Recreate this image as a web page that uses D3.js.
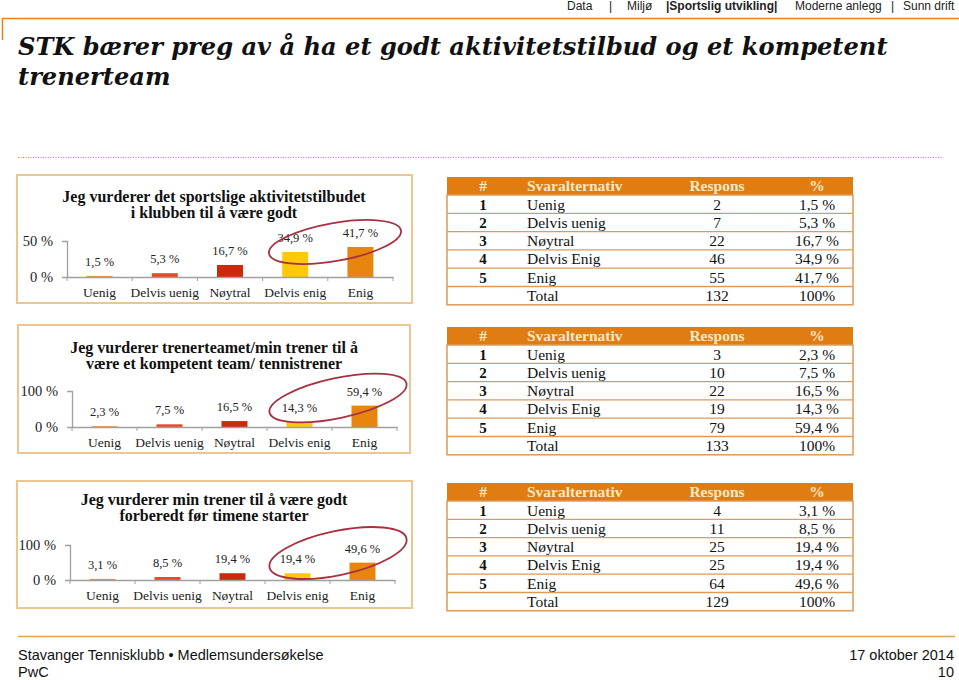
<!DOCTYPE html>
<html><head><meta charset="utf-8">
<script src="https://cdn.jsdelivr.net/npm/d3@7/dist/d3.min.js"></script>
<style>
html,body{margin:0;padding:0;background:#fff;}
svg{display:block;}
</style></head>
<body>
<svg id="c" width="959" height="680"></svg>
<script>
// ---------- DATA ----------
const categories = ["Uenig", "Delvis uenig", "Nøytral", "Delvis enig", "Enig"];
const tableLabels = ["Uenig", "Delvis uenig", "Nøytral", "Delvis Enig", "Enig"];
const barColors = ["#e8913a", "#ea4a24", "#cc2a0c", "#ffc808", "#e8850e"];

const chart1Title = ["Jeg vurderer det sportslige aktivitetstilbudet", "i klubben til å være godt"];
const chart1Values = [1.5, 5.3, 16.7, 34.9, 41.7];
const chart1Labels = ["1,5 %", "5,3 %", "16,7 %", "34,9 %", "41,7 %"];
const chart1Responses = [2, 7, 22, 46, 55];
const chart1Total = 132;
const chart1Ticks = [0, 50];

const chart2Title = ["Jeg vurderer trenerteamet/min trener til å", "være et kompetent team/ tennistrener"];
const chart2Values = [2.3, 7.5, 16.5, 14.3, 59.4];
const chart2Labels = ["2,3 %", "7,5 %", "16,5 %", "14,3 %", "59,4 %"];
const chart2Responses = [3, 10, 22, 19, 79];
const chart2Total = 133;
const chart2Ticks = [0, 100];

const chart3Title = ["Jeg vurderer min trener til å være godt", "forberedt før timene starter"];
const chart3Values = [3.1, 8.5, 19.4, 19.4, 49.6];
const chart3Labels = ["3,1 %", "8,5 %", "19,4 %", "19,4 %", "49,6 %"];
const chart3Responses = [4, 11, 25, 25, 64];
const chart3Total = 129;
const chart3Ticks = [0, 100];

const tableHeader = ["#", "Svaralternativ", "Respons", "%"];
const navItems = ["Data", "|", "Miljø", "|Sportslig utvikling|", "Moderne anlegg", "|", "Sunn drift"];
const pageTitle = ["STK bærer preg av å ha et godt aktivitetstilbud og et kompetent", "trenerteam"];
const footerLeft = ["Stavanger Tennisklubb • Medlemsundersøkelse", "PwC"];
const footerRight = ["17 oktober 2014", "10"];

// ---------- DRAW ----------
const svg = d3.select("#c");
const SERIF = "'Liberation Serif', 'DejaVu Serif', serif";
const TITLESERIF = "'DejaVu Serif', 'Liberation Serif', serif";
const SANS = "'Liberation Sans', Arial, sans-serif";
const ORANGE = "#e3851a";

// nav
const navX = [567, 609, 627, 666, 795, 891, 903];
const nav = svg.append("g").attr("font-family", SANS).attr("font-size", 12).attr("fill", "#222");
navItems.forEach((t, i) => {
  nav.append("text").attr("x", navX[i]).attr("y", 10).text(t)
    .attr("font-weight", t.startsWith("|S") ? "bold" : "normal");
});
svg.append("line").attr("x1", 2).attr("x2", 959).attr("y1", 18.5).attr("y2", 18.5)
  .attr("stroke", ORANGE).attr("stroke-width", 1.5);
svg.append("line").attr("x1", 2.5).attr("x2", 2.5).attr("y1", 18).attr("y2", 40)
  .attr("stroke", ORANGE).attr("stroke-width", 1.5);

// page title
const tg = svg.append("g").attr("font-family", TITLESERIF).attr("font-style", "italic")
  .attr("font-weight", "bold").attr("font-size", 28).attr("fill", "#111");
const t1 = tg.append("text").attr("x", 18).attr("y", 55).text(pageTitle[0]);
tg.append("text").attr("x", 18).attr("y", 85).text(pageTitle[1]);
const tl = t1.node().getComputedTextLength();
if (tl > 0) tg.attr("font-size", Math.min(30, 28 * 870 / tl));

svg.append("line").attr("x1", 18).attr("x2", 942).attr("y1", 157.5).attr("y2", 157.5)
  .attr("stroke", ORANGE).attr("stroke-width", 1).attr("stroke-dasharray", "1,1.5");

// footer
svg.append("line").attr("x1", 18).attr("x2", 955).attr("y1", 636.5).attr("y2", 636.5)
  .attr("stroke", "#e0a050").attr("stroke-width", 1.5);
const fg = svg.append("g").attr("font-family", SANS).attr("font-size", 14.5).attr("fill", "#111");
footerLeft.forEach((t, i) => fg.append("text").attr("x", 18).attr("y", 660 + i * 17).text(t));
footerRight.forEach((t, i) => fg.append("text").attr("x", 954).attr("y", 660 + i * 17)
  .attr("text-anchor", "end").text(t));

function drawChart(cfg) {
  const g = svg.append("g");
  g.append("rect").attr("x", cfg.frame[0]).attr("y", cfg.frame[1])
    .attr("width", cfg.frame[2] - cfg.frame[0]).attr("height", cfg.frame[3] - cfg.frame[1])
    .attr("fill", "#fff").attr("stroke", "#ebc68e").attr("stroke-width", 2);
  cfg.title.forEach((t, i) => g.append("text").attr("x", cfg.titleX).attr("y", cfg.titleY + i * 15.5)
    .attr("text-anchor", "middle").attr("font-family", SERIF).attr("font-weight", "bold")
    .attr("font-size", 16).attr("fill", "#111").text(t));

  const xb = d3.scaleBand().domain(categories).range(cfg.xr);
  const y = d3.scaleLinear().domain([0, cfg.ticks[1]]).range(cfg.yr);

  // bars
  g.selectAll("rect.bar").data(cfg.values).join("rect").attr("class", "bar")
    .attr("x", (d, i) => xb(categories[i]) + xb.bandwidth() / 2 - 13)
    .attr("width", 26)
    .attr("y", d => y(d)).attr("height", d => y(0) - y(d))
    .attr("fill", (d, i) => barColors[i]);

  // x axis
  const xa = g.append("g").attr("transform", `translate(0,${cfg.yr[0]})`)
    .call(d3.axisBottom(xb).tickSize(0).tickPadding(10));
  xa.select(".domain").attr("stroke", "#a0a0a0").attr("stroke-width", 1.3);
  xa.selectAll("text").attr("font-family", SERIF).attr("font-size", 13.5).attr("fill", "#222");
  g.selectAll("line.bt").data(d3.range(categories.length + 1)).join("line").attr("class", "bt")
    .attr("x1", i => cfg.xr[0] + i * xb.step()).attr("x2", i => cfg.xr[0] + i * xb.step())
    .attr("y1", cfg.yr[0]).attr("y2", cfg.yr[0] + 4).attr("stroke", "#a0a0a0");

  // y axis
  const ya = g.append("g").attr("transform", `translate(${cfg.xr[0]},0)`)
    .call(d3.axisLeft(y).tickValues(cfg.ticks).tickFormat(d => d + " %").tickSize(5).tickPadding(9));
  ya.select(".domain").attr("stroke", "#a0a0a0").attr("stroke-width", 1.3);
  ya.selectAll(".tick line").attr("stroke", "#a0a0a0");
  ya.selectAll("text").attr("font-family", SERIF).attr("font-size", 14.5).attr("fill", "#222");

  // value labels
  g.selectAll("text.vl").data(cfg.values).join("text").attr("class", "vl")
    .attr("x", (d, i) => xb(categories[i]) + xb.bandwidth() / 2)
    .attr("y", d => y(d) - 10)
    .attr("text-anchor", "middle").attr("font-family", SERIF).attr("font-size", 12.5).attr("fill", "#222")
    .text((d, i) => cfg.labels[i]);

  // highlight ellipse
  const e = cfg.ellipse;
  g.append("ellipse").attr("cx", 0).attr("cy", 0).attr("rx", e[2]).attr("ry", e[3])
    .attr("transform", `translate(${e[0]},${e[1]}) rotate(${e[4]})`)
    .attr("fill", "none").attr("stroke", "#a83040").attr("stroke-width", 1.8);
}

function drawTable(cfg) {
  const g = svg.append("g").attr("font-family", SERIF);
  const x0 = 447, x1 = 853, hh = 18, rh = 18.3;
  const cols = { num: 483, lab: 527, resp: 717, pct: 817 };
  g.append("rect").attr("x", x0).attr("y", cfg.y).attr("width", x1 - x0).attr("height", hh).attr("fill", "#e07d12");
  const hx = [cols.num, cols.lab, cols.resp, cols.pct];
  tableHeader.forEach((t, i) => g.append("text").attr("x", hx[i]).attr("y", cfg.y + 14)
    .attr("text-anchor", i === 1 ? "start" : "middle").attr("font-weight", "bold")
    .attr("font-size", 15.5).attr("fill", "#fbe8c6").text(t));
  const rows = tableLabels.map((l, i) => ({ n: i + 1, l, r: cfg.resp[i], p: cfg.pct[i] }));
  rows.push({ n: "", l: "Total", r: cfg.total, p: "100%" });
  const top = cfg.y + hh;
  g.append("rect").attr("x", x0).attr("y", top).attr("width", x1 - x0).attr("height", rh * rows.length)
    .attr("fill", "#fff").attr("stroke", "#dd9a58").attr("stroke-width", 1.5);
  g.selectAll("line.sep").data(d3.range(1, rows.length)).join("line").attr("class", "sep")
    .attr("x1", x0).attr("x2", x1).attr("y1", i => top + i * rh).attr("y2", i => top + i * rh)
    .attr("stroke", "#dd9a58").attr("stroke-width", 1.3);
  rows.forEach((r, i) => {
    const yy = top + i * rh + 14.5;
    g.append("text").attr("x", cols.num).attr("y", yy).attr("text-anchor", "middle")
      .attr("font-weight", "bold").attr("font-size", 15).attr("fill", "#111").text(r.n);
    g.append("text").attr("x", cols.lab).attr("y", yy).attr("font-size", 15.5).attr("fill", "#111").text(r.l);
    g.append("text").attr("x", cols.resp).attr("y", yy).attr("text-anchor", "middle")
      .attr("font-size", 15.5).attr("fill", "#111").text(r.r);
    g.append("text").attr("x", cols.pct).attr("y", yy).attr("text-anchor", "middle")
      .attr("font-size", 15.5).attr("fill", "#111").text(r.p);
  });
}

drawChart({ frame: [17, 175, 412, 303], title: chart1Title, titleX: 214, titleY: 202,
  xr: [67, 393], yr: [277, 241], ticks: chart1Ticks, values: chart1Values, labels: chart1Labels,
  ellipse: [335, 242, 67, 19, -10] });
drawChart({ frame: [18, 325, 410, 453], title: chart2Title, titleX: 214, titleY: 353,
  xr: [72, 397], yr: [427, 391], ticks: chart2Ticks, values: chart2Values, labels: chart2Labels,
  ellipse: [338, 398, 70, 20, -12] });
drawChart({ frame: [17, 481, 412, 608], title: chart3Title, titleX: 214, titleY: 505,
  xr: [70, 395], yr: [580, 545], ticks: chart3Ticks, values: chart3Values, labels: chart3Labels,
  ellipse: [338, 553, 70, 22, -12] });

drawTable({ y: 177, resp: chart1Responses, pct: chart1Labels, total: chart1Total });
drawTable({ y: 327, resp: chart2Responses, pct: chart2Labels, total: chart2Total });
drawTable({ y: 483, resp: chart3Responses, pct: chart3Labels, total: chart3Total });
</script>
</body></html>
